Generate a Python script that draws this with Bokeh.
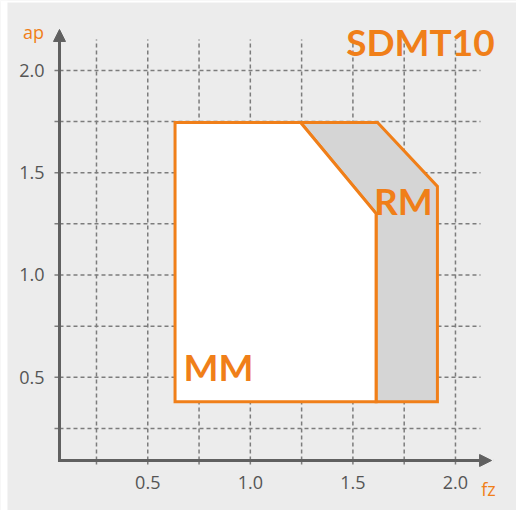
from bokeh.plotting import figure
from bokeh.models import Range1d, Arrow, NormalHead, BoxAnnotation
from bokeh.core.properties import value
from bokeh.embed import file_html
from bokeh.resources import INLINE

# ---- data ----
tick_values = [0.5, 1.0, 1.5, 2.0]
tick_labels = ["0.5", "1.0", "1.5", "2.0"]
grid_ticks = [0.25, 0.5, 0.75, 1.0, 1.25, 1.5, 1.75, 2.0]

mm_fz = [0.633, 0.633, 1.245, 1.613, 1.613]
mm_ap = [0.38, 1.745, 1.745, 1.30, 0.38]

rm_fz = [1.245, 1.62, 1.912, 1.912, 1.613, 1.613]
rm_ap = [1.745, 1.745, 1.433, 0.38, 0.38, 1.30]

region_names = ["MM", "RM"]
region_name_fz = [0.845, 1.746]
region_name_ap = [0.551, 1.362]

title_text = "SDMT10"
x_title = "fz"
y_title = "ap"

# ---- layout / styles ----
BG = "#ececec"
ORANGE = "#f07f19"
AXIS = "#606060"
GRID = "#7c7c7c"
TICKLBL = "#555555"

X0, X1 = -0.2179, 2.2975        # visible fz range (whole canvas)
Y0, Y1 = -0.151, 2.3416         # visible ap range (whole canvas)
AX_X = 0.0697                   # where the ap axis crosses
AX_Y = 0.0934                   # where the fz axis crosses
TICK_X = 0.0453                 # left end of horizontal tick stubs
TICK_Y = 0.0738                 # bottom end of vertical tick stubs
GRID_TOP = 2.151
GRID_RIGHT = 2.122

p = figure(width=516, height=510, output_backend="svg", toolbar_location=None,
           x_range=Range1d(X0, X1), y_range=Range1d(Y0, Y1),
           min_border=0, background_fill_color=BG, border_fill_color=BG,
           outline_line_color=None)
p.xaxis.visible = False
p.yaxis.visible = False
p.xgrid.visible = False
p.ygrid.visible = False

# white page strips around the grey panel
p.add_layout(BoxAnnotation(left=X0, right=-0.184, bottom=Y0, top=Y1, fill_color="white",
                           fill_alpha=1, line_color=None, level="underlay"))
p.add_layout(BoxAnnotation(left=X0, right=X1, bottom=2.332, top=Y1, fill_color="white",
                           fill_alpha=1, line_color=None, level="underlay"))

n = len(grid_ticks)
# dashed grid lines
p.segment(x0=grid_ticks, x1=grid_ticks, y0=[AX_Y] * n, y1=[GRID_TOP] * n,
          line_color=GRID, line_width=1.5, line_dash="4 3")
p.segment(x0=[AX_X] * n, x1=[GRID_RIGHT] * n, y0=grid_ticks, y1=grid_ticks,
          line_color=GRID, line_width=1.5, line_dash="4 3")
# tick stubs outside the axes
p.segment(x0=grid_ticks, x1=grid_ticks, y0=[TICK_Y] * n, y1=[AX_Y] * n,
          line_color=GRID, line_width=1.5)
p.segment(x0=[TICK_X] * n, x1=[AX_X] * n, y0=grid_ticks, y1=grid_ticks,
          line_color=GRID, line_width=1.5)

# tick labels
p.text(x=tick_values, y=[AX_Y] * len(tick_values), text=tick_labels,
       text_font=value("Open Sans"), text_font_size="18px", text_color=TICKLBL,
       text_align="center", text_baseline="top", y_offset=16)
p.text(x=[AX_X] * len(tick_values), y=tick_values, text=tick_labels,
       text_font=value("Open Sans"), text_font_size="18px", text_color=TICKLBL,
       text_align="right", text_baseline="middle", x_offset=-15)

# regions
p.patch(rm_fz, rm_ap, fill_color="#d5d5d5", line_color=ORANGE, line_width=3, line_join="miter")
p.patch(mm_fz, mm_ap, fill_color="white", line_color=ORANGE, line_width=3, line_join="miter")

p.text(x=region_name_fz, y=region_name_ap, text=region_names, text_font=value("Lato"),
       text_font_style="bold", text_font_size="37px", text_color=ORANGE,
       text_align="center", text_baseline="middle")

p.text(x=[1.829], y=[2.139], text=[title_text], text_font=value("Lato"),
       text_font_style="bold", text_font_size="37px", text_color=ORANGE,
       text_align="center", text_baseline="middle")

# axes with arrow heads
p.add_layout(Arrow(end=NormalHead(size=12, fill_color=AXIS, line_color=AXIS, line_width=1),
                   x_start=AX_X, y_start=AX_Y, x_end=AX_X, y_end=2.2,
                   line_color=AXIS, line_width=3, line_cap="square"))
p.add_layout(Arrow(end=NormalHead(size=12, fill_color=AXIS, line_color=AXIS, line_width=1),
                   x_start=AX_X, y_start=AX_Y, x_end=2.176, y_end=AX_Y,
                   line_color=AXIS, line_width=3, line_cap="square"))

# axis titles
p.text(x=[-0.057, 2.161], y=[2.19, -0.0435], text=[y_title, x_title], text_color=ORANGE,
       text_font=value("Open Sans"), text_font_size="18px", text_align="center",
       text_baseline="middle")

open("out.html", "w").write(file_html(p, INLINE))
